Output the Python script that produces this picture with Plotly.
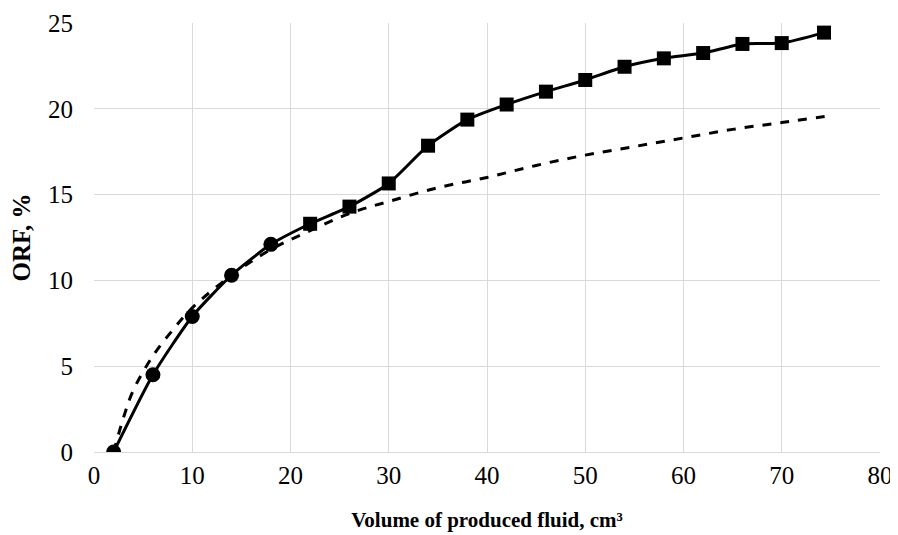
import plotly.graph_objects as go

# Measured series: circles (early) and squares (later)
x_circ = [2, 6, 10, 14, 18]
y_circ = [0.0, 4.5, 7.9, 10.3, 12.1]
x_sq = [22, 26, 30, 34, 38, 42, 46, 50, 54, 58, 62, 66, 70, 74.3]
y_sq = [13.3, 14.3, 15.65, 17.85, 19.37, 20.25, 21.0, 21.68, 22.45, 22.94, 23.25, 23.78, 23.83, 24.44]

# Dashed curve
x_dash = [2, 3, 4, 6, 8, 10, 14, 18, 22, 26, 30, 35, 40, 45, 50, 55, 60, 65, 70, 75]
y_dash = [0.0, 2.0, 3.6, 5.6, 7.1, 8.4, 10.3, 11.8, 12.9, 13.9, 14.6, 15.4, 16.0, 16.7, 17.3, 17.8, 18.3, 18.8, 19.2, 19.6]

x_ticks = [0, 10, 20, 30, 40, 50, 60, 70, 80]
y_ticks = [0, 5, 10, 15, 20, 25]

FONT = "Liberation Serif"

fig = go.Figure()
fig.add_trace(go.Scatter(x=x_dash, y=y_dash, mode="lines",
                         line=dict(color="black", width=3, dash="dash", shape="spline"),
                         showlegend=False, hoverinfo="skip"))
fig.add_trace(go.Scatter(x=x_circ + x_sq, y=y_circ + y_sq, mode="lines",
                         line=dict(color="black", width=3, shape="spline", smoothing=0.6),
                         showlegend=False))
fig.add_trace(go.Scatter(x=x_circ, y=y_circ, mode="markers",
                         marker=dict(symbol="circle", size=15, color="black"),
                         showlegend=False))
fig.add_trace(go.Scatter(x=x_sq, y=y_sq, mode="markers",
                         marker=dict(symbol="square", size=14, color="black"),
                         showlegend=False))

fig.update_layout(
    width=890, height=527,
    margin=dict(l=86, r=18, t=15, b=83, autoexpand=False),
    paper_bgcolor="white", plot_bgcolor="white",
    font=dict(family=FONT, color="black", size=25),
)
fig.update_xaxes(range=[0, 80], tickvals=x_ticks, showgrid=True, gridcolor="#d9d9d9", gridwidth=1,
                 zeroline=False, showline=True, linecolor="#d9d9d9", linewidth=1,
                 ticks="", tickfont=dict(size=25, family=FONT), ticklabelstandoff=1,
                 title=dict(text="<b>Volume of produced fluid, cm³</b>",
                            font=dict(size=21, family=FONT), standoff=24))
fig.update_yaxes(range=[0, 25], tickvals=y_ticks, showgrid=True, gridcolor="#d9d9d9", gridwidth=1,
                 zeroline=False, showline=False, ticks="", ticklabelstandoff=20,
                 tickfont=dict(size=25, family=FONT),
                 title=dict(text="<b>ORF, %</b>", font=dict(size=25, family=FONT), standoff=12))
fig.write_html("out.html")
